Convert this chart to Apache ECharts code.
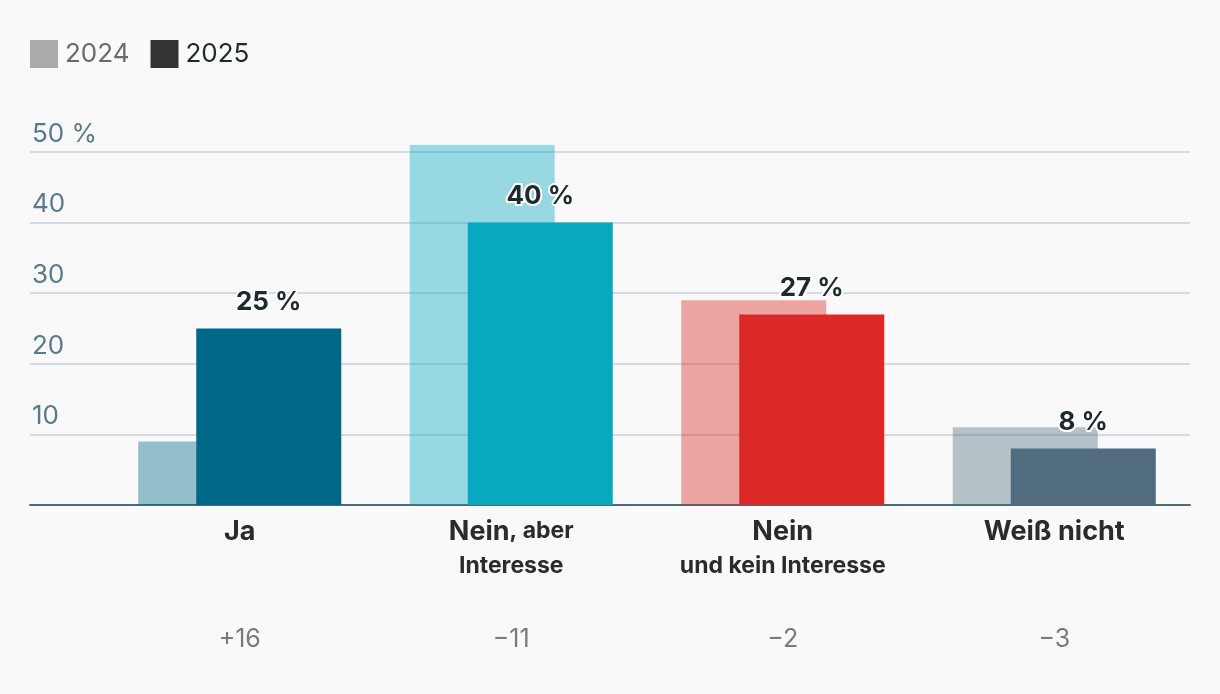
<!DOCTYPE html>
<html>
<head>
<meta charset="utf-8">
<script src="https://cdn.jsdelivr.net/npm/echarts@6/dist/echarts.min.js"></script>
<style>
html,body{margin:0;padding:0;background:#f9f9f9;}
#chart{width:1220px;height:694px;}
</style>
</head>
<body>
<div id="chart"></div>
<script>
const categories = ['Ja', 'Nein, aber Interesse', 'Nein und kein Interesse', 'Weiß nicht'];
const labelMain = ['Ja', 'Nein', 'Nein', 'Weiß nicht'];
const labelMainSuffix = ['', ', aber', '', ''];
const labelSub = ['', 'Interesse', 'und kein Interesse', ''];
const values2024 = [9, 51, 29, 11];
const values2025 = [25, 40, 27, 8];
const changeLabels = ['+16', '−11', '−2', '−3'];
const barColors = ['#006788', '#07a8c0', '#dc2826', '#506c7e'];
const seriesNames = ['2024', '2025'];

const FONT = 'Inter, "Noto Sans", sans-serif';
const chart = echarts.init(document.getElementById('chart'));

const option = {
  backgroundColor: '#f9f9f9',
  textStyle: { fontFamily: FONT },
  animation: false,
  legend: {
    left: 30, top: 40, padding: 0,
    itemWidth: 28, itemHeight: 28, itemGap: 21,
    icon: 'rect',
    textStyle: { fontSize: 26, fontFamily: FONT, padding: [0, 0, 0, 2] },
    data: [
      { name: seriesNames[0], itemStyle: { color: '#aaaaaa', opacity: 1 }, textStyle: { color: '#666b6e' } },
      { name: seriesNames[1], itemStyle: { color: '#333333' }, textStyle: { color: '#1e2a2e' } }
    ]
  },
  grid: [
    { left: 30, right: 30, top: 152, bottom: 189 },
    { left: 104, right: 30, top: 152, bottom: 189 }
  ],
  xAxis: [
    {
      gridIndex: 0, type: 'value', min: 0, max: 1,
      axisLabel: { show: false }, axisTick: { show: false }, splitLine: { show: false },
      axisLine: { show: true, lineStyle: { color: '#4e6a7a', width: 2 } }
    },
    {
      gridIndex: 1, type: 'category', data: categories,
      axisLine: { show: false }, axisTick: { show: false },
      axisLabel: {
        interval: 0, margin: 9,
        formatter: function (v, i) {
          const sub = labelSub[i] || ' ';
          const suf = labelMainSuffix[i] ? '{m|' + labelMainSuffix[i] + '}' : '';
          return '{b|' + labelMain[i] + '}' + suf + '\n{s|' + sub + '}\n{sp| }\n{d|' + changeLabels[i] + '}';
        },
        rich: {
          b: { fontSize: 27, fontWeight: 'bold', color: '#2b2b2b', lineHeight: 35, fontFamily: FONT },
          m: { fontSize: 23, fontWeight: 'bold', color: '#2b2b2b', lineHeight: 31, fontFamily: FONT },
          s: { fontSize: 23, fontWeight: 'bold', color: '#2b2b2b', lineHeight: 35, fontFamily: FONT },
          sp: { fontSize: 10, lineHeight: 38 },
          d: { fontSize: 25, color: '#7a7a7a', lineHeight: 35, fontFamily: FONT }
        }
      }
    }
  ],
  yAxis: [
    {
      gridIndex: 0, type: 'value', min: 0, max: 50, interval: 10,
      axisLine: { show: false }, axisTick: { show: false },
      splitLine: { show: true, lineStyle: { color: '#c5d1da', width: 1.5 } },
      axisLabel: {
        inside: true, margin: 2, color: '#587a8c', fontSize: 26, fontFamily: FONT,
        verticalAlign: 'bottom', lineHeight: 26, padding: [0, 0, 5, 0],
        formatter: function (v) { return v === 0 ? '' : (v === 50 ? '50 %' : String(v)); }
      }
    },
    {
      gridIndex: 1, type: 'value', min: 0, max: 50, interval: 10, show: false
    }
  ],
  series: [
    {
      name: seriesNames[0], type: 'bar', xAxisIndex: 1, yAxisIndex: 1,
      barWidth: 145, barGap: '-60%', clip: false,
      itemStyle: { color: '#aaaaaa' },
      data: values2024.map((v, i) => ({ value: v, itemStyle: { color: barColors[i], opacity: 0.4 } }))
    },
    {
      name: seriesNames[1], type: 'bar', xAxisIndex: 1, yAxisIndex: 1,
      barWidth: 145, barGap: '-60%', clip: false,
      itemStyle: { color: '#333333' },
      label: {
        show: true, position: 'top', distance: 13,
        formatter: '{c} %', fontSize: 26, fontWeight: 'bold', color: '#1f2a2e',
        fontFamily: FONT, textBorderColor: '#ffffff', textBorderWidth: 4
      },
      data: values2025.map((v, i) => ({ value: v, itemStyle: { color: barColors[i] } }))
    }
  ]
};
chart.setOption(option);
</script>
</body>
</html>
